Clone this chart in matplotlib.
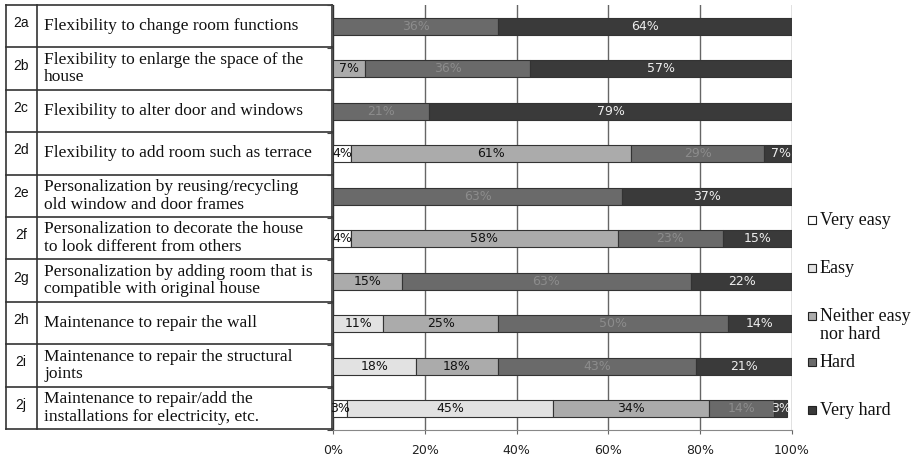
import numpy as np
import matplotlib
matplotlib.use("Agg")
import matplotlib.pyplot as plt
from matplotlib.patches import Rectangle

# Survey items (table rows, top to bottom)
codes = ["2a", "2b", "2c", "2d", "2e", "2f", "2g", "2h", "2i", "2j"]
items = [
    "Flexibility to change room functions",
    "Flexibility to enlarge the space of the\nhouse",
    "Flexibility to alter door and windows",
    "Flexibility to add room such as terrace",
    "Personalization by reusing/recycling\nold window and door frames",
    "Personalization to decorate the house\nto look different from others",
    "Personalization by adding room that is\ncompatible with original house",
    "Maintenance to repair the wall",
    "Maintenance to repair the structural\njoints",
    "Maintenance to repair/add the\ninstallations for electricity, etc.",
]

# Response shares (%) per item
levels = ["Very easy", "Easy", "Neither easy\nnor hard", "Hard", "Very hard"]
very_easy = [0, 0, 0, 4, 0, 4, 0, 0, 0, 3]
easy      = [0, 0, 0, 0, 0, 0, 0, 11, 18, 45]
neither   = [0, 7, 0, 61, 0, 58, 15, 25, 18, 34]
hard      = [36, 36, 21, 29, 63, 23, 63, 50, 43, 14]
very_hard = [64, 57, 79, 7, 37, 15, 22, 14, 21, 3]

series = [very_easy, easy, neither, hard, very_hard]
colors = ["#ffffff", "#e2e2e2", "#ababab", "#6a6a6a", "#3a3a3a"]
label_colors = ["#111111", "#111111", "#111111", "#8c8c8c", "#eeeeee"]

W, H = 918, 459
fig = plt.figure(figsize=(W / 100, H / 100), dpi=100)

# ── Stacked bar chart ────────────────────────────────────────────────────────
ax = fig.add_axes([333 / W, 1 - 430 / H, 459 / W, 425 / H])
y = np.arange(len(codes))
left = np.zeros(len(codes))
for vals, col, lcol in zip(series, colors, label_colors):
    vals = np.array(vals, dtype=float)
    ax.barh(y, vals, left=left, height=0.4, color=col,
            edgecolor="#333333", linewidth=0.8, zorder=3)
    for yi, v, l in zip(y, vals, left):
        if v > 0:
            ax.text(l + v / 2, yi, f"{v:.0f}%", ha="center", va="center",
                    fontsize=9, color=lcol, family="DejaVu Sans", zorder=4)
    left += vals

ax.set_xlim(0, 100)
ax.set_ylim(len(codes) - 0.5, -0.5)
ax.set_xticks(np.arange(0, 101, 20))
ax.set_xticklabels([f"{t}%" for t in range(0, 101, 20)],
                   fontsize=9, color="#222222")
ax.set_yticks(np.arange(len(codes) + 1) - 0.5)
ax.set_yticklabels([])
ax.tick_params(axis="y", length=4, color="#444444")
ax.tick_params(axis="x", length=3, color="#666666", pad=7)
ax.grid(axis="x", color="#666666", lw=1.0, zorder=0)
for side in ["top", "right"]:
    ax.spines[side].set_visible(False)
ax.spines["left"].set_color("#333333")
ax.spines["bottom"].set_color("#888888")

# ── Item table on the left + legend (pixel coordinates) ─────────────────────
tab = fig.add_axes([0, 0, 1, 1], zorder=-1)
tab.set_xlim(0, W)
tab.set_ylim(H, 0)
tab.axis("off")
top, bottom = 5, 429
x0, x1, x2 = 6, 37, 332
row_h = (bottom - top) / len(codes)
for i, (c, t) in enumerate(zip(codes, items)):
    yc = top + (i + 0.5) * row_h
    tab.text(x0 + 15, yc - 3, c, ha="center", va="center", fontsize=10,
             family="Liberation Sans", color="#111111")
    tab.text(x1 + 7, yc, t, ha="left", va="center", fontsize=12.5,
             family="Liberation Serif", color="#111111", linespacing=1.12)
for i in range(len(codes) + 1):
    yl = top + i * row_h
    tab.plot([x0, x2], [yl, yl], color="#333333", lw=1.2)
for xl in (x0, x1, x2):
    tab.plot([xl, xl], [top, bottom], color="#333333", lw=1.2)

# legend entries, y positions of each label's first line
legend_y = [220, 268, 316, 362, 410]
for lab, col, ly in zip(levels, colors, legend_y):
    tab.add_patch(Rectangle((808, ly - 4), 8, 8, facecolor=col,
                            edgecolor="#222222", lw=0.8))
    tab.text(820, ly - 8, lab, ha="left", va="top", fontsize=13,
             family="Liberation Serif", color="#111111", linespacing=1.05)

fig.savefig("out.png", dpi=100)
